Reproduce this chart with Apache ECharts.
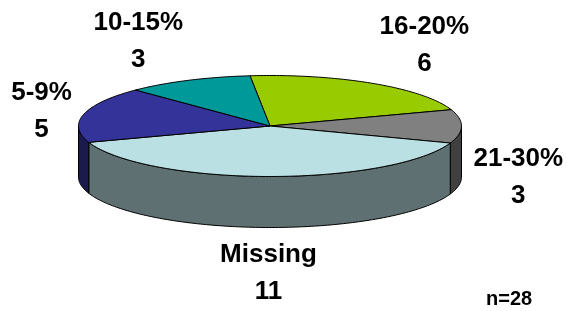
<!DOCTYPE html>
<html><head><meta charset="utf-8">
<script src="https://cdn.jsdelivr.net/npm/echarts@6/dist/echarts.min.js"></script>
<style>html,body{margin:0;padding:0;background:#fff}#c{width:567px;height:311px}</style>
</head><body><div id="c"></div>
<script>
// ---- data ----
const categories = ['16-20%', '21-30%', 'Missing', '5-9%', '10-15%'];
const counts = [6, 3, 11, 5, 3];
const sampleNote = 'n=28';

// ---- styles ----
const topColors = ['#99CC00', '#808080', '#BBE0E3', '#333399', '#009999'];
const sideColors = ['#4D6600', '#404040', '#5E7072', '#1A1A4D', '#004D4D'];
const FONT_FAMILY = '"Liberation Sans", Arial, Helvetica, sans-serif';
const LABEL_SIZE = 26, LABEL_LH = 37;

// ---- layout of the 3D ellipse ----
const CX = 270, CY = 126, RX = 191.5, RY = 50.5, DEPTH = 51, START = -96, GAP = 12;

const total = counts.reduce((a, b) => a + b, 0);
const starts = []; let acc = 0;
counts.forEach(v => { starts.push(acc); acc += v; });
const seriesData = categories.map((c, i) => ({ name: c, value: [counts[i], starts[i]] }));

const rad = d => d * Math.PI / 180;
function pt(t, dy) { return [CX + RX * Math.cos(rad(t)), CY + RY * Math.sin(rad(t)) + (dy || 0)]; }
function arc(a0, a1, dy) {
  const pts = []; const n = Math.max(2, Math.ceil(Math.abs(a1 - a0)));
  for (let k = 0; k <= n; k++) pts.push(pt(a0 + (a1 - a0) * k / n, dy));
  return pts;
}
function angles(api) {
  const v = api.value(0), s = api.value(1);
  return [START + s / total * 360, START + (s + v) / total * 360];
}

const mctx = document.createElement('canvas').getContext('2d');
mctx.font = 'bold ' + LABEL_SIZE + 'px ' + FONT_FAMILY;

function renderWall(params, api) {
  const [a0, a1] = angles(api); const i = params.dataIndex; const children = [];
  for (let k = -1; k <= 1; k++) {
    const lo = Math.max(a0, 360 * k), hi = Math.min(a1, 360 * k + 180);
    if (hi > lo) {
      const pts = arc(lo, hi, 0).concat(arc(hi, lo, DEPTH));
      children.push({ type: 'polygon', shape: { points: pts },
        style: { fill: sideColors[i], stroke: '#000', lineWidth: 1, lineJoin: 'round' } });
    }
  }
  return { type: 'group', children };
}

function renderTop(params, api) {
  const [a0, a1] = angles(api); const i = params.dataIndex;
  const pts = [[CX, CY]].concat(arc(a0, a1, 0));
  // label placed outside the slice's mid angle
  const m = (a0 + a1) / 2, c = Math.cos(rad(m)), s = Math.sin(rad(m));
  const ax = CX + (RX + GAP) * c;
  const ay = CY + (RY + GAP) * s + (s > 0 ? DEPTH + 6 * s : 0);
  const lines = [categories[i], String(api.value(0))];
  const w = Math.max(...lines.map(t => mctx.measureText(t).width));
  const h = LABEL_LH + LABEL_SIZE * 0.75;
  const lx = ax + (c > 0.3 ? w / 2 : c < -0.3 ? -w / 2 : 0);
  const ly = ay + (s < -0.5 ? -h / 2 : s > 0.5 ? h / 2 : 0);
  return { type: 'group', children: [
    { type: 'polygon', shape: { points: pts },
      style: { fill: topColors[i], stroke: '#000', lineWidth: 1, lineJoin: 'round' } },
    { type: 'text', x: lx, y: ly,
      style: { text: lines.join('\n'), fill: '#000', font: 'bold ' + LABEL_SIZE + 'px ' + FONT_FAMILY,
        lineHeight: LABEL_LH, align: 'center', verticalAlign: 'middle',
        textAlign: 'center', textVerticalAlign: 'middle' } }
  ] };
}

const chart = echarts.init(document.getElementById('c'), null, { renderer: 'canvas' });
chart.setOption({
  backgroundColor: '#fff',
  animation: false,
  series: [
    { type: 'custom', coordinateSystem: 'none', z: 1, data: seriesData, renderItem: renderWall },
    { type: 'custom', coordinateSystem: 'none', z: 2, data: seriesData, renderItem: renderTop }
  ],
  graphic: [
    { type: 'text', left: 486, top: 289,
      style: { text: sampleNote, fill: '#000', font: 'bold 20px ' + FONT_FAMILY } }
  ]
});
</script>
</body></html>
